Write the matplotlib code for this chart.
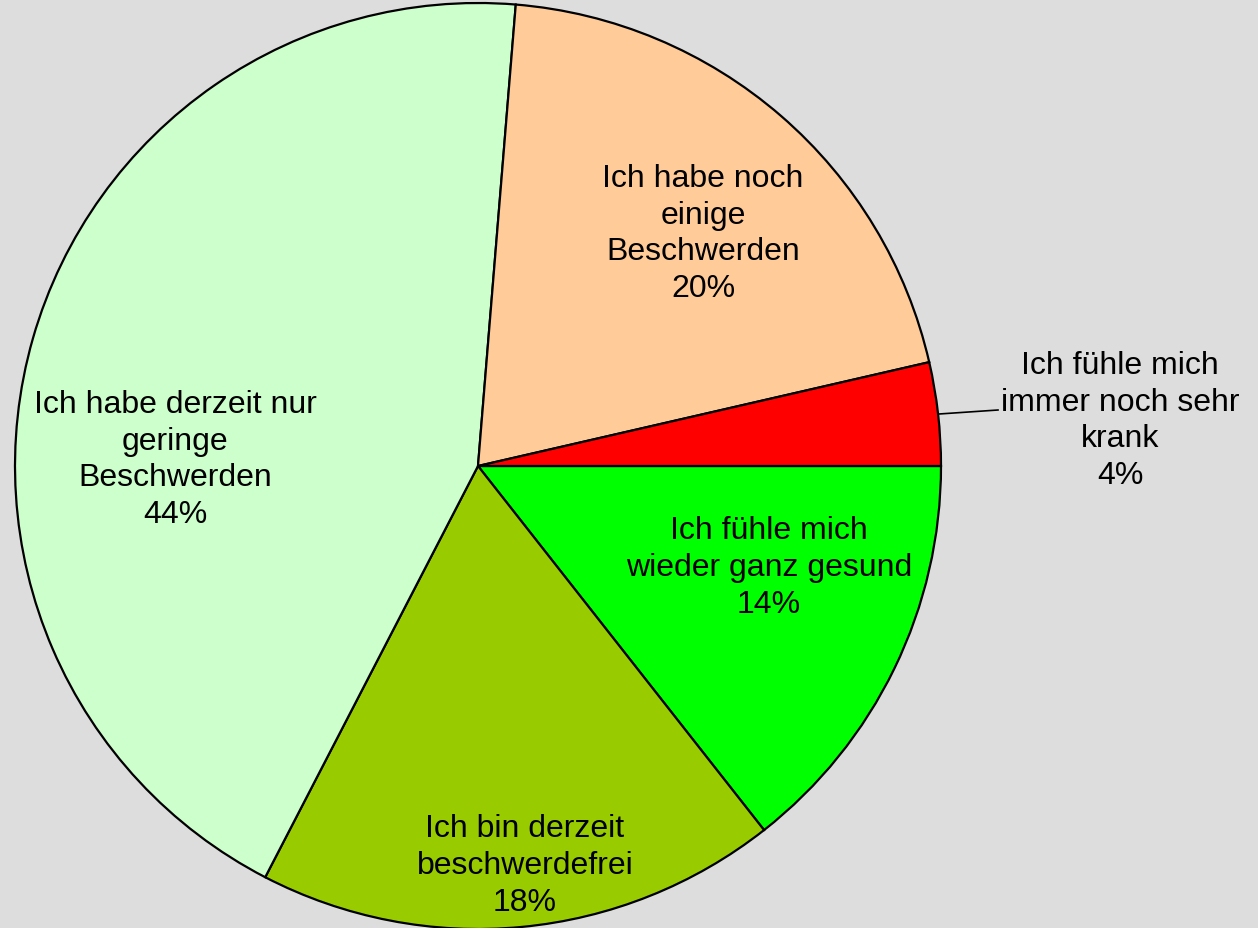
import matplotlib
matplotlib.use("Agg")
import matplotlib.pyplot as plt
import numpy as np

categories = ["Ich fühle mich\nwieder ganz gesund",
              "Ich bin derzeit\nbeschwerdefrei",
              "Ich habe derzeit nur\ngeringe\nBeschwerden",
              "Ich habe noch\neinige\nBeschwerden",
              "Ich fühle mich\nimmer noch sehr\nkrank"]
values = [14.4, 18.2, 43.7, 20.1, 3.6]
colors = ["#00FF00", "#99CC00", "#CCFFCC", "#FFCC99", "#FF0000"]

plt.rcParams['font.family'] = ['Liberation Sans', 'DejaVu Sans']

W, H = 1258, 929
fig = plt.figure(figsize=(W / 100, H / 100), dpi=100, facecolor="#DDDDDD")
cx, cy, R = 478, 467, 463
ax = fig.add_axes([(cx - R) / W, (H - cy - R) / H, 2 * R / W, 2 * R / H])
ax.axis("off")

wedges, _ = ax.pie(values, colors=colors, startangle=0, counterclock=False,
                   radius=1, center=(0, 0), frame=False,
                   wedgeprops=dict(edgecolor="black", linewidth=1.6))
ax.set_xlim(-1, 1)
ax.set_ylim(-1, 1)
ax.set_aspect("auto")

def d(px, py):
    return ((px - cx) / R, (cy - py) / R)

label_pos = [(769, 568), (525, 866), (175, 460), (703, 234), (1120, 421)]
total = sum(values)
for cat, v, (px, py) in zip(categories, values, label_pos):
    x, y = d(px, py)
    ax.text(x, y, f"{cat}\n{round(v / total * 100):.0f}%", ha="center", va="center",
            fontsize=23, linespacing=1.3, clip_on=False)

# leader line for small slice
x0, y0 = d(939, 415)
x1, y1 = d(998, 411)
ax.plot([x0, x1], [y0, y1], color="black", lw=1.2, clip_on=False)

fig.savefig("out.png", dpi=100, facecolor=fig.get_facecolor())
